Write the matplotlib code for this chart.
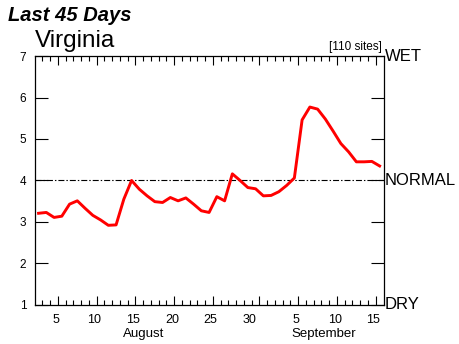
import matplotlib
matplotlib.use("Agg")
import matplotlib.pyplot as plt
import matplotlib.transforms as mtransforms
import numpy as np

plt.rcParams['font.family'] = ['Liberation Sans', 'DejaVu Sans']

# days counted from Aug 1 (Sept d = 31 + d); one value per day, Aug 2 .. Sep 15
start_day = 2
values = [3.21, 3.23, 3.11, 3.14, 3.43, 3.51, 3.33, 3.16, 3.05, 2.92,
          2.93, 3.55, 4.00, 3.79, 3.63, 3.49, 3.47, 3.59, 3.51, 3.58,
          3.43, 3.27, 3.23, 3.61, 3.51, 4.16, 4.00, 3.83, 3.80, 3.63,
          3.64, 3.73, 3.88, 4.06, 5.46, 5.77, 5.72, 5.48, 5.19, 4.89,
          4.69, 4.45, 4.45, 4.46, 4.35]

major_days = [5, 10, 15, 20, 25, 31, 36, 41, 46]
label_days = [5, 10, 15, 20, 25, 30, 36, 41, 46]
day_labels = ['5', '10', '15', '20', '25', '30', '5', '10', '15']
month_pos = [16, 39.3]
month_names = ['August', 'September']
side_labels = {7: 'WET', 4: 'NORMAL', 1: 'DRY'}
normal = 4

x = np.arange(len(values)) + start_day + 0.5

fig = plt.figure(figsize=(4.6, 3.44), dpi=100)
ax = fig.add_axes([0.0754, 0.1134, 0.7583, 0.7238])

ax.axhline(normal, color='black', lw=0.8, linestyle=(0, (5.4, 1.8, 1.3, 1.8)))
ax.plot(x, values, color='red', lw=2.1)

ax.set_xlim(start_day, start_day + 45)
ax.set_ylim(1, 7)

for sp in ax.spines.values():
    sp.set_linewidth(0.9)

ax.set_xticks(major_days)
ax.set_xticklabels([])
ax.set_xticks(np.arange(start_day + 1, start_day + 45), minor=True)
ax.tick_params(axis='x', which='major', direction='in', length=6.5, width=0.8,
               top=True, bottom=True)
ax.tick_params(axis='x', which='minor', direction='in', length=3.6, width=0.8,
               top=True, bottom=True)

ax.set_yticks(range(1, 8))
ax.tick_params(axis='y', which='major', direction='in', length=9.5, width=0.8,
               left=True, right=True, labelsize=8.5, pad=6)

trans = mtransforms.blended_transform_factory(ax.transData, ax.transAxes)
for d, lab in zip(label_days, day_labels):
    ax.text(d - 0.3, -0.06, lab, transform=trans, ha='center', va='center', fontsize=9)
for p, m in zip(month_pos, month_names):
    ax.text(p, -0.115, m, transform=trans, ha='center', va='center', fontsize=9.5)

for yv, lab in side_labels.items():
    ax.text(1.004, yv, lab, transform=mtransforms.blended_transform_factory(ax.transAxes, ax.transData),
            ha='left', va='center', fontsize=12)

fig.text(0.017, 0.955, 'Last 45 Days', fontsize=14.5, fontweight='bold', fontstyle='italic',
         ha='left', va='center')
fig.text(0.076, 0.88, 'Virginia', fontsize=17.5, ha='left', va='center')
ax.text(0.995, 1.012, '[110 sites]', transform=ax.transAxes, fontsize=8.5,
        ha='right', va='bottom')

fig.savefig('out.png', dpi=100)
